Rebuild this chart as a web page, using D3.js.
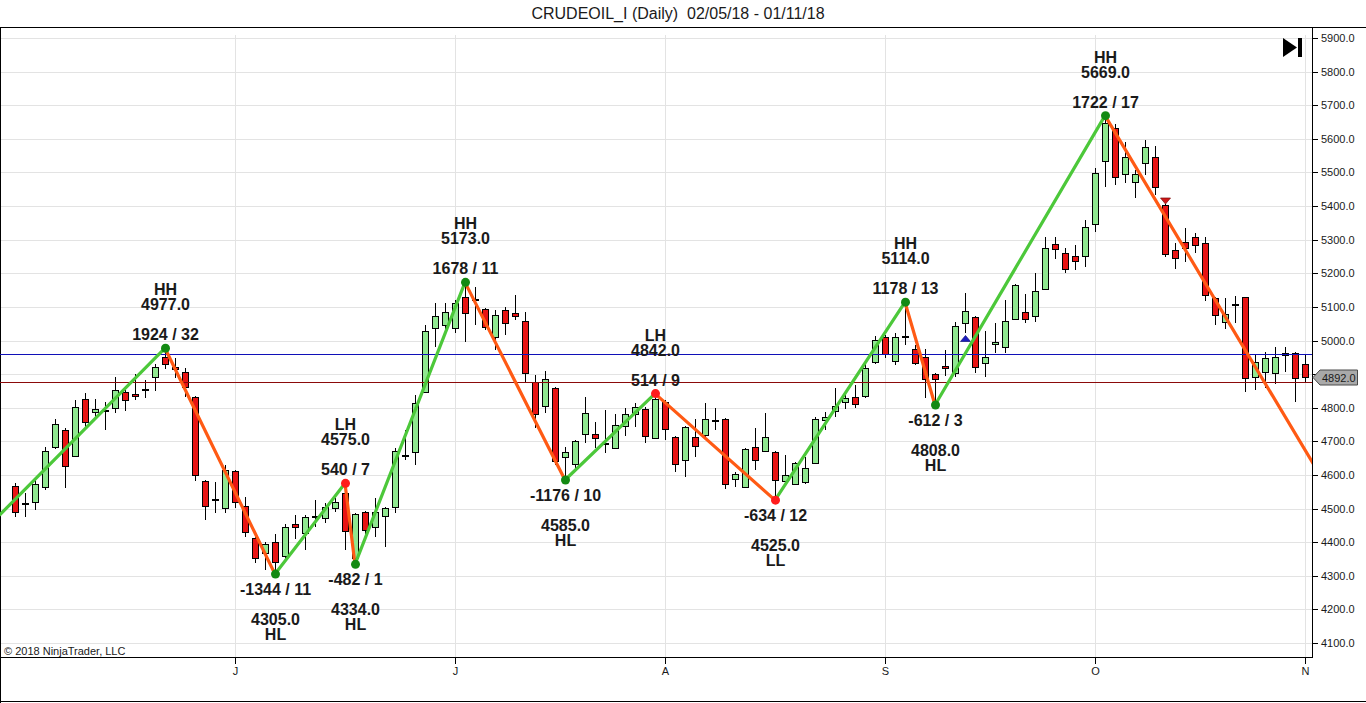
<!DOCTYPE html>
<html>
<head>
<meta charset="utf-8">
<script src="https://cdn.jsdelivr.net/npm/d3@7"></script>
<style>
  html, body { margin: 0; padding: 0; background: #fff; }
  svg { display: block; font-family: Arial, "Liberation Sans", sans-serif; }
</style>
</head>
<body>
<div id="chart_pane"></div>
<script>
// daily bars, 02/05/18 - 01/11/18, indexed 0..129
const candle_open = [
  4567, 4515, 4520, 4564, 4683, 4734, 4656, 4826, 4787, 4792,
  4799, 4847, 4841, 4855, 4892, 4951, 4921, 4906, 4832, 4582,
  4527, 4502, 4612, 4508, 4412, 4368, 4401, 4359, 4454, 4427,
  4477, 4472, 4502, 4546, 4353, 4490, 4445, 4478, 4505, 4658,
  4668, 4847, 5037, 5046, 5037, 5130, 5120, 5094, 5010, 5091,
  5082, 5058, 4877, 4805, 4859, 4653, 4633, 4722, 4722, 4694,
  4680, 4746, 4781, 4796, 4710, 4817, 4713, 4645, 4713, 4719,
  4762, 4766, 4588, 4564, 4683, 4671, 4668, 4582, 4573, 4579,
  4636, 4763, 4790, 4817, 4832, 4835, 4936, 5010, 4939, 5012,
  4975, 4951, 4900, 4924, 4903, 5052, 5070, 4933, 4990, 4981,
  5064, 5085, 5073, 5153, 5287, 5260, 5251, 5251, 5347, 5534,
  5632, 5495, 5472, 5528, 5546, 5403, 5269, 5293, 5308, 5290,
  5127, 5055, 5108, 5128, 4892, 4906, 4903, 4963, 4963, 4930
];
const candle_high = [
  4576, 4546, 4591, 4683, 4766, 4740, 4823, 4844, 4826, 4817,
  4892, 4853, 4900, 4882, 4930, 4977, 4948, 4918, 4835, 4584,
  4579, 4630, 4615, 4534, 4421, 4401, 4424, 4454, 4481, 4481,
  4525, 4517, 4531, 4575, 4487, 4492, 4531, 4505, 4680, 4734,
  4838, 5046, 5112, 5112, 5121, 5173, 5159, 5096, 5091, 5100,
  5135, 5085, 4897, 4909, 4861, 4683, 4704, 4832, 4758, 4793,
  4781, 4799, 4814, 4802, 4842, 4823, 4716, 4746, 4766, 4814,
  4799, 4768, 4609, 4680, 4740, 4784, 4670, 4659, 4639, 4653,
  4772, 4787, 4859, 4838, 4868, 4936, 5013, 5016, 5022, 5114,
  4987, 4975, 4902, 4972, 5055, 5141, 5072, 5028, 5052, 5121,
  5167, 5138, 5201, 5308, 5308, 5275, 5284, 5359, 5513, 5669,
  5644, 5591, 5507, 5597, 5579, 5405, 5290, 5335, 5320, 5308,
  5129, 5127, 5132, 5130, 4957, 4966, 4981, 4981, 4965, 4957
];
const candle_low = [
  4475, 4475, 4496, 4555, 4677, 4561, 4653, 4743, 4772, 4734,
  4784, 4790, 4823, 4829, 4850, 4915, 4888, 4832, 4582, 4466,
  4487, 4487, 4502, 4415, 4338, 4317, 4305, 4347, 4409, 4377,
  4445, 4457, 4490, 4377, 4334, 4415, 4415, 4386, 4487, 4644,
  4630, 4844, 4981, 5022, 5022, 4996, 5046, 5031, 4972, 5016,
  5061, 4877, 4740, 4784, 4630, 4585, 4621, 4695, 4680, 4665,
  4677, 4716, 4743, 4695, 4706, 4704, 4609, 4594, 4653, 4713,
  4734, 4558, 4564, 4561, 4615, 4668, 4525, 4579, 4570, 4573,
  4633, 4734, 4772, 4796, 4799, 4829, 4930, 4948, 4927, 4987,
  4927, 4829, 4808, 4894, 4892, 5022, 4903, 4892, 4963, 4963,
  5062, 5052, 5055, 5150, 5242, 5201, 5210, 5219, 5323, 5457,
  5463, 5469, 5424, 5492, 5433, 5248, 5213, 5234, 5260, 5118,
  5046, 5034, 5052, 4847, 4853, 4859, 4871, 4906, 4817, 4874
];
const candle_close = [
  4490, 4518, 4573, 4671, 4752, 4627, 4802, 4758, 4796, 4794,
  4853, 4823, 4835, 4857, 4921, 4930, 4915, 4862, 4600, 4508,
  4529, 4615, 4520, 4430, 4353, 4395, 4341, 4445, 4445, 4475,
  4479, 4505, 4520, 4433, 4484, 4436, 4490, 4502, 4671, 4660,
  4814, 5028, 5073, 5085, 5112, 5082, 5122, 5040, 5076, 5052,
  5073, 4903, 4781, 4886, 4642, 4668, 4701, 4784, 4710, 4696,
  4749, 4781, 4802, 4716, 4826, 4737, 4633, 4743, 4686, 4766,
  4764, 4573, 4603, 4677, 4645, 4713, 4585, 4600, 4636, 4621,
  4766, 4772, 4805, 4829, 4811, 4918, 5002, 4960, 5010, 5014,
  4933, 4886, 4886, 4918, 5043, 5088, 4921, 4951, 4996, 5058,
  5165, 5064, 5147, 5275, 5272, 5213, 5237, 5338, 5498, 5647,
  5487, 5546, 5495, 5576, 5457, 5257, 5245, 5275, 5284, 5135,
  5076, 5079, 5110, 4888, 4936, 4948, 4951, 4957, 4888, 4892
];

// month ticks on the time axis
const month_tick_index = [22, 44, 65, 87, 108, 129];
const month_tick_label = ["J", "J", "A", "S", "O", "N"];
const price_tick_values = [4100, 4200, 4300, 4400, 4500, 4600, 4700, 4800, 4900,
  5000, 5100, 5200, 5300, 5400, 5500, 5600, 5700, 5800, 5900];

// zigzag swing points (first and last run off the panel)
const zigzag_index = [-1.5, 15, 26, 33, 34, 45, 55, 64, 76, 89, 92, 109, 131];
const zigzag_price = [4482, 4977, 4305, 4575, 4334, 5173, 4585, 4842, 4525, 5114, 4808, 5669, 4575];

// swing labels
const swing_index = [15, 26, 33, 34, 45, 55, 64, 76, 89, 92, 109];
const swing_price = [4977, 4305, 4575, 4334, 5173, 4585, 4842, 4525, 5114, 4808, 5669];
const swing_kind = ["HH", "HL", "LH", "HL", "HH", "HL", "LH", "LL", "HH", "HL", "HH"];
const swing_move = ["1924 / 32", "-1344 / 11", "540 / 7", "-482 / 1", "1678 / 11", "-1176 / 10",
  "514 / 9", "-634 / 12", "1178 / 13", "-612 / 3", "1722 / 17"];

// horizontal price lines
const level_price = [4960, 4876];
const level_color = ["#1010b8", "#8b0a0a"];

// signal arrows
const signal_index = [95, 115];
const signal_price = [5006, 5415];
const signal_dir = ["up", "down"];

const last_price = 4892;

const width = 1366, height = 703;
const plot_left = 0, plot_right = 1312, plot_top = 28, plot_bottom = 657;

const x_scale = d3.scaleLinear().domain([0, 129]).range([15, 1305]);
const y_scale = d3.scaleLinear().domain([4100, 5900]).range([643, 38]);

const svg = d3.select("#chart_pane")
  .append("svg")
  .attr("width", width)
  .attr("height", height);

svg.append("defs").append("clipPath")
  .attr("id", "plot_clip")
  .append("rect")
  .attr("x", plot_left)
  .attr("y", plot_top)
  .attr("width", plot_right - plot_left)
  .attr("height", plot_bottom - plot_top);

// title
svg.append("text")
  .attr("x", 678)
  .attr("y", 19)
  .attr("text-anchor", "middle")
  .style("white-space", "pre")
  .attr("font-size", 16)
  .attr("fill", "#1a1a1a")
  .text("CRUDEOIL_I (Daily)  02/05/18 - 01/11/18");

// grid
let grid_group = svg.append("g").attr("shape-rendering", "crispEdges");
grid_group.selectAll(".hgrid")
  .data(price_tick_values)
  .join("line")
  .attr("x1", plot_left)
  .attr("x2", plot_right)
  .attr("y1", d => Math.round(y_scale(d)) + 0.5)
  .attr("y2", d => Math.round(y_scale(d)) + 0.5)
  .attr("stroke", "#e3e3e3");
grid_group.selectAll(".vgrid")
  .data(month_tick_index)
  .join("line")
  .attr("x1", d => Math.round(x_scale(d)) + 0.5)
  .attr("x2", d => Math.round(x_scale(d)) + 0.5)
  .attr("y1", 35)
  .attr("y2", plot_bottom)
  .attr("stroke", "#e3e3e3");

// frame
let frame_group = svg.append("g")
  .attr("stroke", "#000")
  .attr("shape-rendering", "crispEdges");
frame_group.append("line").attr("x1", 0).attr("x2", width).attr("y1", 27.5).attr("y2", 27.5);
frame_group.append("line").attr("x1", 0).attr("x2", plot_right).attr("y1", plot_bottom + 0.5).attr("y2", plot_bottom + 0.5);
frame_group.append("line").attr("x1", plot_right + 0.5).attr("x2", plot_right + 0.5).attr("y1", plot_top).attr("y2", plot_bottom + 1);
frame_group.append("line").attr("x1", 0.5).attr("x2", 0.5).attr("y1", plot_top).attr("y2", height);
frame_group.append("line").attr("x1", 0).attr("x2", width).attr("y1", height - 1.5).attr("y2", height - 1.5);

// price axis; labels hidden behind the last-price marker are left out
let last_y = Math.round(y_scale(last_price)) + 0.5;
let y_axis_group = svg.append("g");
y_axis_group.selectAll("line")
  .data(price_tick_values)
  .join("line")
  .attr("shape-rendering", "crispEdges")
  .attr("x1", plot_right)
  .attr("x2", plot_right + 6)
  .attr("y1", d => Math.round(y_scale(d)) + 0.5)
  .attr("y2", d => Math.round(y_scale(d)) + 0.5)
  .attr("stroke", "#000");
y_axis_group.selectAll("text")
  .data(price_tick_values.filter(d => Math.abs(y_scale(d) - last_y) > 13))
  .join("text")
  .attr("x", plot_right + 9)
  .attr("y", d => y_scale(d) + 4)
  .attr("font-size", 11)
  .attr("fill", "#1a1a1a")
  .text(d => d3.format(".1f")(d));

// time axis
let x_axis_group = svg.append("g");
x_axis_group.selectAll("line")
  .data(month_tick_index)
  .join("line")
  .attr("shape-rendering", "crispEdges")
  .attr("x1", d => Math.round(x_scale(d)) + 0.5)
  .attr("x2", d => Math.round(x_scale(d)) + 0.5)
  .attr("y1", plot_bottom)
  .attr("y2", plot_bottom + 7)
  .attr("stroke", "#000");
x_axis_group.selectAll("text")
  .data(month_tick_index)
  .join("text")
  .attr("x", d => x_scale(d) + 0.5)
  .attr("y", 675)
  .attr("text-anchor", "middle")
  .attr("font-size", 11)
  .attr("fill", "#1a1a1a")
  .text((d, i) => month_tick_label[i]);

// copyright
svg.append("text")
  .attr("x", 4)
  .attr("y", 655)
  .attr("font-size", 11)
  .attr("fill", "#1a1a1a")
  .text("\u00a9 2018 NinjaTrader, LLC");

// candles
let bars = candle_open.map((o, i) => ({
  i: i, o: o, h: candle_high[i], l: candle_low[i], c: candle_close[i]
}));

let candle_group = svg.append("g")
  .attr("clip-path", "url(#plot_clip)")
  .attr("shape-rendering", "crispEdges");

candle_group.selectAll(".wick")
  .data(bars)
  .join("line")
  .attr("x1", d => Math.round(x_scale(d.i)) + 0.5)
  .attr("x2", d => Math.round(x_scale(d.i)) + 0.5)
  .attr("y1", d => Math.round(y_scale(d.h)))
  .attr("y2", d => Math.round(y_scale(d.l)))
  .attr("stroke", "#000");

candle_group.selectAll(".body")
  .data(bars)
  .join("rect")
  .attr("x", d => Math.round(x_scale(d.i)) - 3 + 0.5)
  .attr("width", 6)
  .attr("y", d => Math.round(y_scale(Math.max(d.o, d.c))) + 0.5)
  .attr("height", d => Math.max(1, Math.round(y_scale(Math.min(d.o, d.c))) - Math.round(y_scale(Math.max(d.o, d.c)))))
  .attr("fill", d => d.c >= d.o ? "#90e890" : "#e81414")
  .attr("stroke", "#000");

// price levels
svg.append("g")
  .attr("shape-rendering", "crispEdges")
  .selectAll("line")
  .data(level_price)
  .join("line")
  .attr("x1", plot_left)
  .attr("x2", plot_right)
  .attr("y1", d => Math.round(y_scale(d)) + 0.5)
  .attr("y2", d => Math.round(y_scale(d)) + 0.5)
  .attr("stroke", (d, i) => level_color[i]);

// signal arrows
svg.append("g")
  .selectAll("path")
  .data(signal_index)
  .join("path")
  .attr("d", (d, i) => {
    let cx = x_scale(d) + 0.5, cy = y_scale(signal_price[i]);
    return signal_dir[i] === "up"
      ? `M${cx - 5},${cy + 3}L${cx + 5},${cy + 3}L${cx},${cy - 3}Z`
      : `M${cx - 5},${cy - 3}L${cx + 5},${cy - 3}L${cx},${cy + 3}Z`;
  })
  .attr("fill", (d, i) => signal_dir[i] === "up" ? "#1c1cc0" : "#d01818")
  .attr("stroke", (d, i) => signal_dir[i] === "up" ? "#10107a" : "#7a0a0a")
  .attr("stroke-width", 0.7);

// zigzag legs
let zz_points = zigzag_index.map((d, i) => ({ i: d, p: zigzag_price[i] }));
let zz_group = svg.append("g").attr("clip-path", "url(#plot_clip)");
zz_group.selectAll("line")
  .data(d3.pairs(zz_points))
  .join("line")
  .attr("x1", d => x_scale(d[0].i))
  .attr("y1", d => y_scale(d[0].p))
  .attr("x2", d => x_scale(d[1].i))
  .attr("y2", d => y_scale(d[1].p))
  .attr("stroke", d => d[1].p > d[0].p ? "#4cc83a" : "#ff5a14")
  .attr("stroke-width", 3.2)
  .attr("stroke-linecap", "round");

// swing dots
zz_group.selectAll("circle")
  .data(swing_index)
  .join("circle")
  .attr("cx", d => x_scale(d) + 0.5)
  .attr("cy", (d, i) => y_scale(swing_price[i]))
  .attr("r", 4.5)
  .attr("fill", (d, i) => (swing_kind[i] === "LH" || swing_kind[i] === "LL") ? "#ff1c1c" : "#138a13");

// swing labels
let label_group = svg.append("g")
  .attr("font-size", 16)
  .attr("font-weight", "bold")
  .attr("fill", "#1a1a1a")
  .attr("text-anchor", "middle");

swing_index.forEach((d, i) => {
  let cx = x_scale(d) + 0.5;
  let cy = y_scale(swing_price[i]);
  let is_high = swing_kind[i][1] === "H";
  let lines = is_high
    ? [[swing_kind[i], -53], [d3.format(".1f")(swing_price[i]), -38], [swing_move[i], -8]]
    : [[swing_move[i], 21], [d3.format(".1f")(swing_price[i]), 51], [swing_kind[i], 66]];
  lines.forEach(l => {
    label_group.append("text")
      .attr("x", cx)
      .attr("y", cy + l[1])
      .text(l[0]);
  });
});

// last price marker
svg.append("path")
  .attr("d", `M${plot_right + 1},${last_y}L${plot_right + 8},${last_y - 7.5}L1357.5,${last_y - 7.5}L1357.5,${last_y + 7.5}L${plot_right + 8},${last_y + 7.5}Z`)
  .attr("fill", "#a9a9a9")
  .attr("stroke", "#4a4a4a");
svg.append("text")
  .attr("x", plot_right + 10)
  .attr("y", last_y + 4)
  .attr("font-size", 11)
  .attr("fill", "#1a1a1a")
  .text(d3.format(".1f")(last_price));

// scroll-to-end button
let btn = svg.append("g").attr("fill", "#000");
btn.append("path").attr("d", "M1283,38L1283,57L1297,47.5Z");
btn.append("rect").attr("x", 1298).attr("y", 38).attr("width", 4).attr("height", 19);
</script>
</body>
</html>
